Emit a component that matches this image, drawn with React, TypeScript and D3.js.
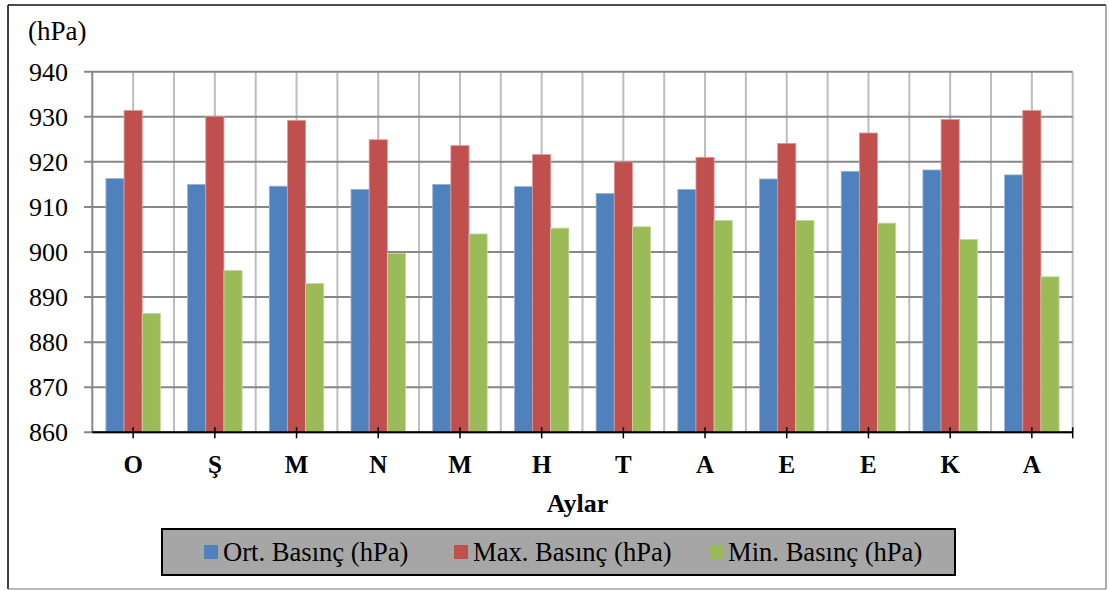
import React from "react";
import * as d3 from "d3";

// Monthly pressure values (hPa)
const months = ["O", "Ş", "M", "N", "M", "H", "T", "A", "E", "E", "K", "A"];
const ortBasinc = [916.3, 915.0, 914.6, 913.9, 915.0, 914.5, 913.0, 913.9, 916.2, 917.9, 918.2, 917.1];
const maxBasinc = [931.4, 930.1, 929.2, 924.9, 923.6, 921.6, 920.0, 921.0, 924.1, 926.4, 929.4, 931.4];
const minBasinc = [886.4, 895.9, 893.0, 899.7, 904.0, 905.3, 905.6, 907.0, 907.0, 906.4, 902.8, 894.5];
const yTicks = [860, 870, 880, 890, 900, 910, 920, 930, 940];
const seriesNames = ["Ort. Basınç (hPa)", "Max. Basınç (hPa)", "Min. Basınç (hPa)"];
const seriesColors = ["#4f81bd", "#c0504d", "#9bbb59"];
const seriesEdges = ["#9ab3d6", "#dc9896", "#c5d8a0"];

const W = 1109;
const H = 590;
const plotLeft = 92.3;
const plotRight = 1072.7;
const plotTop = 71.7;
const plotBottom = 432.3;
const FONT = "Liberation Serif, Times New Roman, serif";

export default function App() {
  const series = [ortBasinc, maxBasinc, minBasinc];
  const idx = months.map((_, i) => i);

  const x0 = d3.scaleBand<number>().domain(idx).range([plotLeft, plotRight]).padding(0);
  const x1 = d3
    .scaleBand<number>()
    .domain([0, 1, 2])
    .range([0, x0.bandwidth()])
    .paddingInner(0)
    .paddingOuter(0.75);
  const y = d3.scaleLinear().domain([860, 940]).range([plotBottom, plotTop]);

  // vertical gridlines: category boundaries and centres
  const vLines: number[] = [];
  idx.forEach((i) => {
    const s = x0(i)!;
    if (i > 0) vLines.push(s);
    vLines.push(s + x0.bandwidth() / 2);
  });
  vLines.push(plotRight);

  const legendItems = [204, 454, 709];
  const txt = { fontFamily: FONT };

  return (
    <svg
      width={W}
      height={H}
      style={{ position: "absolute", left: 0, top: 0, background: "#fff", fontFamily: FONT }}
    >
      {/* outer frame */}
      <line x1={8} y1={5} x2={1106} y2={5} stroke="#111" strokeWidth={1.6} />
      <line x1={8} y1={5} x2={8} y2={589} stroke="#111" strokeWidth={1.6} />
      <line x1={1106} y1={5} x2={1106} y2={589} stroke="#777" strokeWidth={1.2} />
      <line x1={8} y1={589} x2={1106} y2={589} stroke="#777" strokeWidth={1.2} />

      {/* unit label */}
      <text x={28} y={40} fontSize={27} fill="#000" style={txt}>
        (hPa)
      </text>

      {/* vertical grid */}
      {vLines.map((v, i) => (
        <line key={"v" + i} x1={v} x2={v} y1={plotTop} y2={plotBottom} stroke="#bdbdbd" strokeWidth={2} />
      ))}

      {/* horizontal grid with y ticks */}
      {yTicks.map((t) => (
        <g key={"h" + t}>
          <line x1={84} x2={plotRight} y1={y(t)} y2={y(t)} stroke="#878787" strokeWidth={2} />
          <text x={68} y={y(t) + 8.8} fontSize={26} textAnchor="end" fill="#000" style={txt}>
            {t}
          </text>
        </g>
      ))}

      {/* y axis */}
      <line x1={plotLeft} x2={plotLeft} y1={plotTop} y2={plotBottom} stroke="#878787" strokeWidth={2} />

      {/* bars */}
      {series.map((vals, s) =>
        vals.map((v, i) => (
          <rect
            key={`b${s}-${i}`}
            x={x0(i)! + x1(s)!}
            y={y(v)}
            width={x1.bandwidth()}
            height={plotBottom - y(v)}
            fill={seriesColors[s]}
            stroke={seriesEdges[s]}
            strokeWidth={0.8}
          />
        ))
      )}

      {/* x axis */}
      <line x1={plotLeft} x2={plotRight} y1={plotBottom} y2={plotBottom} stroke="#000" strokeWidth={2} />
      {idx.map((i) => {
        const cx = x0(i)! + x0.bandwidth() / 2;
        return (
          <g key={"x" + i}>
            <line x1={cx} x2={cx} y1={plotBottom - 5} y2={plotBottom + 6} stroke="#000" strokeWidth={1.5} />
            <text x={cx} y={472.5} fontSize={25} fontWeight="bold" textAnchor="middle" fill="#000" style={txt}>
              {months[i]}
            </text>
          </g>
        );
      })}
      <line x1={plotRight} x2={plotRight} y1={plotBottom - 5} y2={plotBottom + 6} stroke="#000" strokeWidth={1.5} />

      {/* axis title */}
      <text x={577.5} y={512} fontSize={26} fontWeight="bold" textAnchor="middle" fill="#000" style={txt}>
        Aylar
      </text>

      {/* legend */}
      <rect x={162} y={529} width={793} height={46} fill="#a6a6a6" stroke="#000" strokeWidth={2} />
      {seriesNames.map((name, s) => (
        <g key={"l" + s}>
          <rect x={legendItems[s]} y={545} width={14} height={14} fill={seriesColors[s]} />
          <text x={legendItems[s] + 19} y={561} fontSize={26.6} fill="#000" style={txt}>
            {name}
          </text>
        </g>
      ))}
    </svg>
  );
}
